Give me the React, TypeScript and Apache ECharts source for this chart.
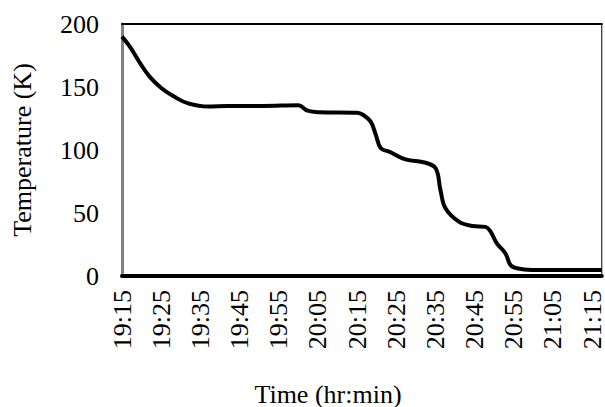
import React, { useEffect, useRef } from "react";
import * as echarts from "echarts";

// minutes elapsed since 19:15
const minutes = [0, 2, 4.6, 7.1, 10.1, 13.5, 16.9, 22, 27, 31, 36, 45, 47.4, 50.4, 60.1, 61.5, 63.5, 64.8, 66.1, 68.2, 72.4, 77.5, 80.1, 81.3, 82.6, 86, 89.4, 92.8, 94.1, 95.7, 97.9, 99.2, 100.8, 104.6, 122.5];
// temperature (K)
const temperature = [190, 182, 169, 158, 149, 142, 137, 134.5, 135, 135, 135, 135.5, 131.2, 130, 129.6, 128, 122.5, 112, 101.3, 98.7, 92.6, 89.9, 85.4, 68.3, 53.7, 43.1, 39.7, 39, 35.2, 25.9, 17.9, 8.7, 6.1, 4.8, 4.8];

const startHour = 19;
const startMinute = 15;
const yTicks = [0, 50, 100, 150, 200];
const xTitle = "Time (hr:min)";
const yTitle = "Temperature (K)";

const FONT = "Liberation Serif";

function fmt(m: number): string {
  const total = startHour * 60 + startMinute + Math.round(m);
  const h = Math.floor(total / 60);
  const mm = total % 60;
  return `${h}:${mm < 10 ? "0" + mm : mm}`;
}

export default function App() {
  const ref = useRef<HTMLDivElement>(null);
  useEffect(() => {
    if (!ref.current) return;
    const chart = echarts.init(ref.current, undefined, { renderer: "svg" });
    const data = minutes.map((m, i) => [m, temperature[i]]);
    chart.setOption({
      animation: false,
      backgroundColor: "#ffffff",
      textStyle: { fontFamily: FONT },
      grid: {
        left: 122,
        right: 1,
        top: 24,
        bottom: 131,
        show: true,
        borderColor: "#000",
        borderWidth: 1,
        backgroundColor: "transparent",
      },
      xAxis: [
        {
          type: "value",
          min: 0,
          max: 122.5,
          interval: 10,
          position: "bottom",
          axisLine: { show: true, onZero: false, lineStyle: { color: "#000", width: 4 } },
          axisTick: { show: false },
          splitLine: { show: false },
          axisLabel: {
            rotate: 90,
            margin: 14,
            showMaxLabel: false,
            formatter: (v: number) => fmt(v),
            fontFamily: FONT,
            fontSize: 26,
            color: "#000",
          },
        },
        {
          type: "value",
          min: 0,
          max: 122.5,
          position: "top",
          axisLine: { show: true, onZero: false, lineStyle: { color: "#000", width: 2 } },
          axisTick: { show: false },
          axisLabel: { show: false },
          splitLine: { show: false },
        },
      ],
      yAxis: {
        type: "value",
        min: yTicks[0],
        max: yTicks[yTicks.length - 1],
        interval: 50,
        axisLine: { show: true, lineStyle: { color: "#808080", width: 3 } },
        axisTick: { show: false },
        splitLine: { show: false },
        axisLabel: {
          margin: 23,
          fontFamily: FONT,
          fontSize: 26,
          color: "#000",
        },
      },
      graphic: [
        {
          type: "text",
          x: 22,
          y: 150,
          rotation: Math.PI / 2,
          style: {
            text: yTitle,
            fontFamily: FONT,
            fontSize: 26,
            fill: "#000",
            align: "center",
            verticalAlign: "middle",
          },
        },
        {
          type: "text",
          x: 328,
          y: 394,
          style: {
            text: xTitle,
            fontFamily: FONT,
            fontSize: 26,
            fill: "#000",
            align: "center",
            verticalAlign: "middle",
          },
        },
      ],
      series: [
        {
          type: "line",
          data,
          xAxisIndex: 0,
          showSymbol: false,
          smooth: 0.4,
          lineStyle: { color: "#000", width: 4 },
        },
      ],
    });
    return () => chart.dispose();
  }, []);
  return (
    <div
      ref={ref}
      style={{ position: "fixed", left: 0, top: 0, width: 605, height: 407 }}
    />
  );
}
